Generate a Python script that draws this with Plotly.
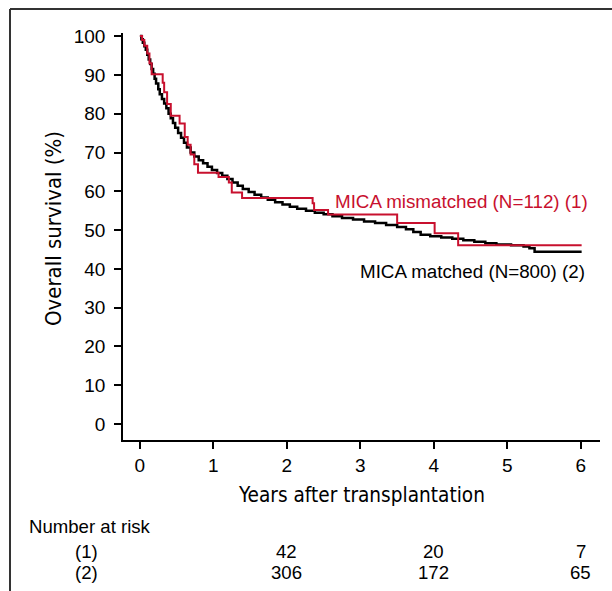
import plotly.graph_objects as go

# ---- data ----
red_t = [0, 0.03, 0.06, 0.10, 0.13, 0.16, 0.31, 0.33, 0.37, 0.42, 0.54, 0.61, 0.65, 0.69, 0.74, 0.79,
         1.07, 1.21, 1.25, 1.39, 2.35, 2.37, 2.56, 3.50, 4.01, 4.33, 6.01]
red_s = [100, 99, 97.5, 95.5, 93, 90.2, 88, 85.5, 82.5, 79.5, 77.5, 74, 72, 69.5, 67, 64.8,
         63.7, 62.3, 59.7, 58.3, 56.9, 55.2, 54.0, 51.8, 49.2, 46.1, 46.1]

black_t = [0, 0.02, 0.04, 0.06, 0.08, 0.10, 0.12, 0.14, 0.16, 0.18, 0.20, 0.22, 0.25, 0.27, 0.30,
           0.33, 0.36, 0.39, 0.42, 0.45, 0.48, 0.52, 0.56, 0.60, 0.64, 0.69, 0.74, 0.80, 0.86,
           0.92, 0.98, 1.05, 1.12, 1.19, 1.26, 1.33, 1.40, 1.48, 1.56, 1.65, 1.74, 1.84, 1.94,
           2.04, 2.14, 2.26, 2.38, 2.50, 2.62, 2.75, 2.90, 3.05, 3.20, 3.35, 3.50, 3.62, 3.72,
           3.82, 3.95, 4.10, 4.25, 4.40, 4.55, 4.70, 4.85, 5.05, 5.22, 5.30, 5.37, 6.01]
black_s = [100, 99.2, 98.3, 97.4, 96.5, 95.2, 94, 92.8, 91.5, 90.3, 89, 87.8, 86.3, 85, 83.8,
           82.6, 81.4, 80, 78.8, 77.6, 76.4, 75, 73.8, 72.5, 71.3, 70, 69, 68, 67.2,
           66.3, 65.5, 64.7, 64, 63.2, 62.3, 61.4, 60.6, 59.8, 59.1, 58.4, 57.8, 57.2, 56.6,
           56, 55.5, 55, 54.5, 54.1, 53.6, 53.1, 52.7, 52.2, 51.8, 51.3, 50.8, 50.2, 49.5,
           48.8, 48.4, 48.1, 47.8, 47.4, 47.0, 46.6, 46.3, 46.1, 45.8, 45.3, 44.4, 44.4]

x_ticks = [0, 1, 2, 3, 4, 5, 6]
y_ticks = [0, 10, 20, 30, 40, 50, 60, 70, 80, 90, 100]
risk_years = [2, 4, 6]
risk_1 = [42, 20, 7]
risk_2 = [306, 172, 65]

RED = "#c8102e"
FONT = "Liberation Sans"
NARROW = "DejaVu Sans Condensed, Liberation Sans Narrow, Roboto"

fig = go.Figure()
fig.add_trace(go.Scatter(x=black_t, y=black_s, mode="lines", line=dict(color="black", width=2.5, shape="hv"),
                         showlegend=False, hoverinfo="skip"))
fig.add_trace(go.Scatter(x=red_t, y=red_s, mode="lines", line=dict(color=RED, width=2, shape="hv"),
                         showlegend=False, hoverinfo="skip"))

L, R, T, B = 123, 12, 33, 151
W, H = 612, 591
pw, ph = W - L - R, H - T - B

def px(xp):
    return (xp - L) / pw

def py(yp):
    return (H - B - yp) / ph

axis_common = dict(ticks="outside", ticklen=7, tickwidth=1.5, tickcolor="black", showline=True,
                   linecolor="black", linewidth=1.5, showgrid=False, zeroline=False,
                   tickfont=dict(family=FONT, size=19))

fig.update_layout(
    width=W, height=H,
    margin=dict(l=L, r=R, t=T, b=B),
    paper_bgcolor="white", plot_bgcolor="white",
    font=dict(family=FONT, size=18.7, color="black"),
    xaxis=dict(range=[-0.23, 6.26], tickvals=x_ticks, **axis_common),
    yaxis=dict(range=[-4.1, 100.8], tickvals=y_ticks, ticklabelstandoff=5, **axis_common),
)

ann = []
ann.append(dict(text="Years after transplantation", xref="paper", yref="paper", x=0.5, y=py(495),
                xanchor="center", yanchor="middle", showarrow=False, font=dict(family=NARROW, size=20.6)))
ann.append(dict(text="Overall survival (%)", xref="paper", yref="paper", x=px(53), y=py(229),
                xanchor="center", yanchor="middle", textangle=-90, showarrow=False,
                font=dict(family=NARROW, size=22)))
ann.append(dict(text="MICA mismatched (N=112) (1)", xref="x", yref="paper", x=2.63, y=py(201),
                xanchor="left", yanchor="middle", showarrow=False, font=dict(family=FONT, size=18.8, color=RED)))
ann.append(dict(text="MICA matched (N=800) (2)", xref="x", yref="paper", x=2.97, y=py(271),
                xanchor="left", yanchor="middle", showarrow=False, font=dict(family=FONT, size=18.8, color="black")))
ann.append(dict(text="Number at risk", xref="paper", yref="paper", x=px(27), y=py(526),
                xanchor="left", yanchor="middle", showarrow=False, font=dict(family=FONT, size=18.6)))
ann.append(dict(text="(1)", xref="paper", yref="paper", x=px(86), y=py(551),
                xanchor="center", yanchor="middle", showarrow=False, font=dict(family=FONT, size=18.6)))
ann.append(dict(text="(2)", xref="paper", yref="paper", x=px(86), y=py(572),
                xanchor="center", yanchor="middle", showarrow=False, font=dict(family=FONT, size=18.6)))
for yr, a, b in zip(risk_years, risk_1, risk_2):
    ann.append(dict(text=str(a), xref="x", yref="paper", x=yr, y=py(551), xanchor="center",
                    yanchor="middle", showarrow=False, font=dict(family=FONT, size=18.6)))
    ann.append(dict(text=str(b), xref="x", yref="paper", x=yr, y=py(572), xanchor="center",
                    yanchor="middle", showarrow=False, font=dict(family=FONT, size=18.6)))
fig.update_layout(annotations=ann)

# frame (top and left edges)
fig.add_shape(type="line", xref="paper", yref="paper", x0=px(10), x1=px(612), y0=py(9), y1=py(9),
              line=dict(color="#333333", width=2))
fig.add_shape(type="line", xref="paper", yref="paper", x0=px(10), x1=px(10), y0=py(9), y1=py(592),
              line=dict(color="#333333", width=2))

fig.write_html("out.html", config={"displayModeBar": False},
               post_script="document.body.style.margin='0';document.body.style.overflow='hidden';")
